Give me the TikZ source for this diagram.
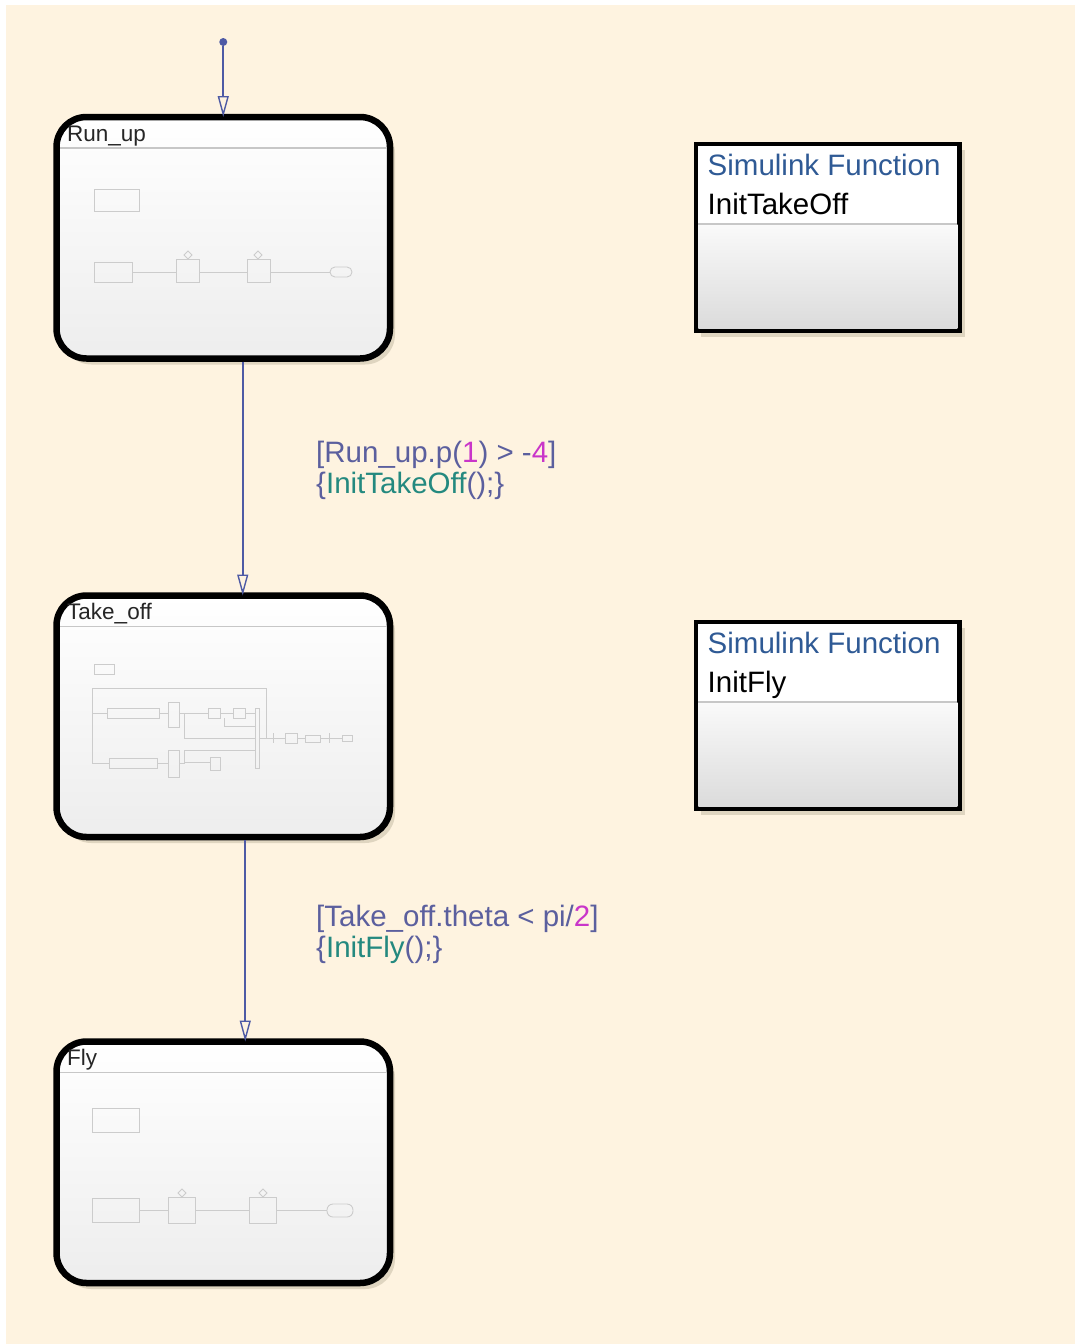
\documentclass[tikz,border=0pt]{standalone}
\usepackage{fontspec}
\setmainfont{Liberation Sans}
\usetikzlibrary{arrows.meta,shadows}
\definecolor{paper}{HTML}{FEF3E0}
\definecolor{transblue}{HTML}{4E5AA5}
\definecolor{guardblue}{HTML}{5B5F9E}
\definecolor{nummag}{HTML}{C935C9}
\definecolor{callteal}{HTML}{24897F}
\definecolor{fnblue}{HTML}{2F5A95}
\definecolor{shadowtone}{HTML}{A89F86}
\begin{document}
\begin{tikzpicture}[x=1pt,y=-1pt,
  state/.style={draw=black, line width=6.5pt, rounded corners=30pt,
    top color=white, bottom color=black!7, outer sep=0pt, inner sep=0pt,
    minimum width=333.5pt, minimum height=241.5pt,
    drop shadow={shadow xshift=5pt, shadow yshift=-6pt, fill=shadowtone, opacity=0.35}},
  func/.style={draw=black, line width=4.5pt, fill=white, outer sep=0pt, inner sep=0pt,
    minimum width=263.5pt, minimum height=186.5pt,
    drop shadow={shadow xshift=5pt, shadow yshift=-6pt, fill=shadowtone, opacity=0.35}},
  statename/.style={font=\fontsize{22.5}{25}\selectfont, text=black!85, inner sep=0pt, anchor=base west},
  fntext/.style={font=\fontsize{29.5}{33}\selectfont, inner sep=0pt, anchor=base west},
  guardtext/.style={font=\fontsize{29.5}{33}\selectfont, text=guardblue, inner sep=0pt, anchor=base west},
  header/.style={draw=black!22, line width=1.2pt},
  mini/.style={draw=black!20, line width=0.9pt},
  trans/.style={draw=transblue, line width=1.6pt,
    -{Triangle[open, length=21pt, width=11pt, line width=1.4pt]}},
  initdot/.style={circle, fill=transblue, inner sep=0pt, minimum size=8pt}]

  \useasboundingbox (0,0) rectangle (1075,1344);
  \fill[paper] (6,5) rectangle (1075,1344);

  % states
  \node[state] (runup) at (223.25,237.75) {};
  \node[state] (takeoff) at (223.25,716.25) {};
  \node[state] (fly) at (223.25,1162.25) {};
  \foreach \s in {runup,takeoff,fly}
    \draw[header] ([shift={(3.5,31)}]\s.north west) -- ([shift={(-3.5,31)}]\s.north east);
  \node[statename] (runupname) at ([shift={(10.5,24.5)}]runup.north west) {Run\_up};
  \node[statename] (takeoffname) at ([shift={(10.5,23.5)}]takeoff.north west) {Take\_off};
  \node[statename] (flyname) at ([shift={(10.5,23.5)}]fly.north west) {Fly};

  % miniature contents
  \draw[mini] (94,189) rectangle (139,211);
  \draw[mini] (94,262) rectangle (132,282) (176,259) rectangle (199,282) (247,259) rectangle (270,282);
  \draw[mini] (132,272) -- (176,272) (199,272) -- (247,272) (270,272) -- (330,272);
  \draw[mini, rounded corners=5pt] (330,267) rectangle (352,277);
  \foreach \x in {188,258}
    \draw[mini] (\x,251) -- (\x+4,255) -- (\x,259) -- (\x-4,255) -- cycle;

  \draw[mini] (94,664) rectangle (114,674);
  \draw[mini] (92,763) -- (92,688) -- (266,688) -- (266,738);
  \draw[mini] (92,713) -- (107,713) (159,713) -- (168,713) (179,713) -- (208,713)
    (220,713) -- (233,713) (245,713) -- (255,713);
  \draw[mini] (107,708) rectangle (159,718) (168,702) rectangle (179,727)
    (208,708) rectangle (220,718) (233,708) rectangle (245,718) (255,708) rectangle (259,768);
  \draw[mini] (184,713) -- (184,738) -- (255,738) (224,718) -- (224,726) -- (255,726);
  \draw[mini] (92,763) -- (109,763) (157,763) -- (168,763) (179,763) -- (184,763) -- (184,750) -- (255,750)
    (184,762) -- (210,762);
  \draw[mini] (109,758) rectangle (157,768) (168,750) rectangle (179,777) (210,757) rectangle (220,770);
  \draw[mini] (259,738) -- (285,738) (297,738) -- (305,738) (320,738) -- (342,738)
    (273,733) -- (273,743) (329,733) -- (329,743);
  \draw[mini] (285,733) rectangle (297,743) (305,735) rectangle (320,742) (342,735) rectangle (352,741);

  \draw[mini] (92,1108) rectangle (139,1132);
  \draw[mini] (92,1198) rectangle (139,1222) (168,1197) rectangle (195,1223) (249,1197) rectangle (276,1223);
  \draw[mini] (139,1210) -- (168,1210) (195,1210) -- (249,1210) (276,1210) -- (327,1210);
  \draw[mini, rounded corners=6pt] (327,1204) rectangle (353,1217);
  \foreach \x in {182,263}
    \draw[mini] (\x,1189) -- (\x+4,1193) -- (\x,1197) -- (\x-4,1193) -- cycle;

  % simulink functions
  \foreach \f/\y in {fn1/237.25,fn2/715.25} {
    \node[func] (\f) at (827.75,\y) {};
    \shade[top color=black!2, bottom color=black!14]
      ([shift={(2.25,80)}]\f.north west) rectangle ([shift={(-2.25,-2.25)}]\f.south east);
    \draw[header] ([shift={(2.25,80)}]\f.north west) -- ([shift={(-2.25,80)}]\f.north east);
  }
  \node[fntext, text=fnblue] (fn1kind) at ([shift={(11.5,31)}]fn1.north west) {Simulink Function};
  \node[fntext] (fn1name) at ([shift={(11.5,70)}]fn1.north west) {InitTakeOff};
  \node[fntext, text=fnblue] (fn2kind) at ([shift={(11.5,31)}]fn2.north west) {Simulink Function};
  \node[fntext] (fn2name) at ([shift={(11.5,70)}]fn2.north west) {InitFly};

  % transitions
  \node[initdot] (init) at (223.25,42) {};
  \draw[trans] (init) -- (runup.north);
  \draw[trans, shorten <=3pt] ([xshift=19.5pt]runup.south) -- ([xshift=19.5pt]takeoff.north);
  \draw[trans, shorten <=3pt] ([xshift=22pt]takeoff.south) -- ([xshift=22pt]fly.north);

  \node[guardtext] (guard1) at (316,462) {[Run\_up.p(\textcolor{nummag}{1}) > -\textcolor{nummag}{4}]};
  \node[guardtext] (act1) at ([yshift=-31pt]guard1.base west) {\{\textcolor{callteal}{InitTakeOff}();\}};
  \node[guardtext] (guard2) at (316,926) {[Take\_off.theta < pi/\textcolor{nummag}{2}]};
  \node[guardtext] (act2) at ([yshift=-31pt]guard2.base west) {\{\textcolor{callteal}{InitFly}();\}};
\end{tikzpicture}
\end{document}
